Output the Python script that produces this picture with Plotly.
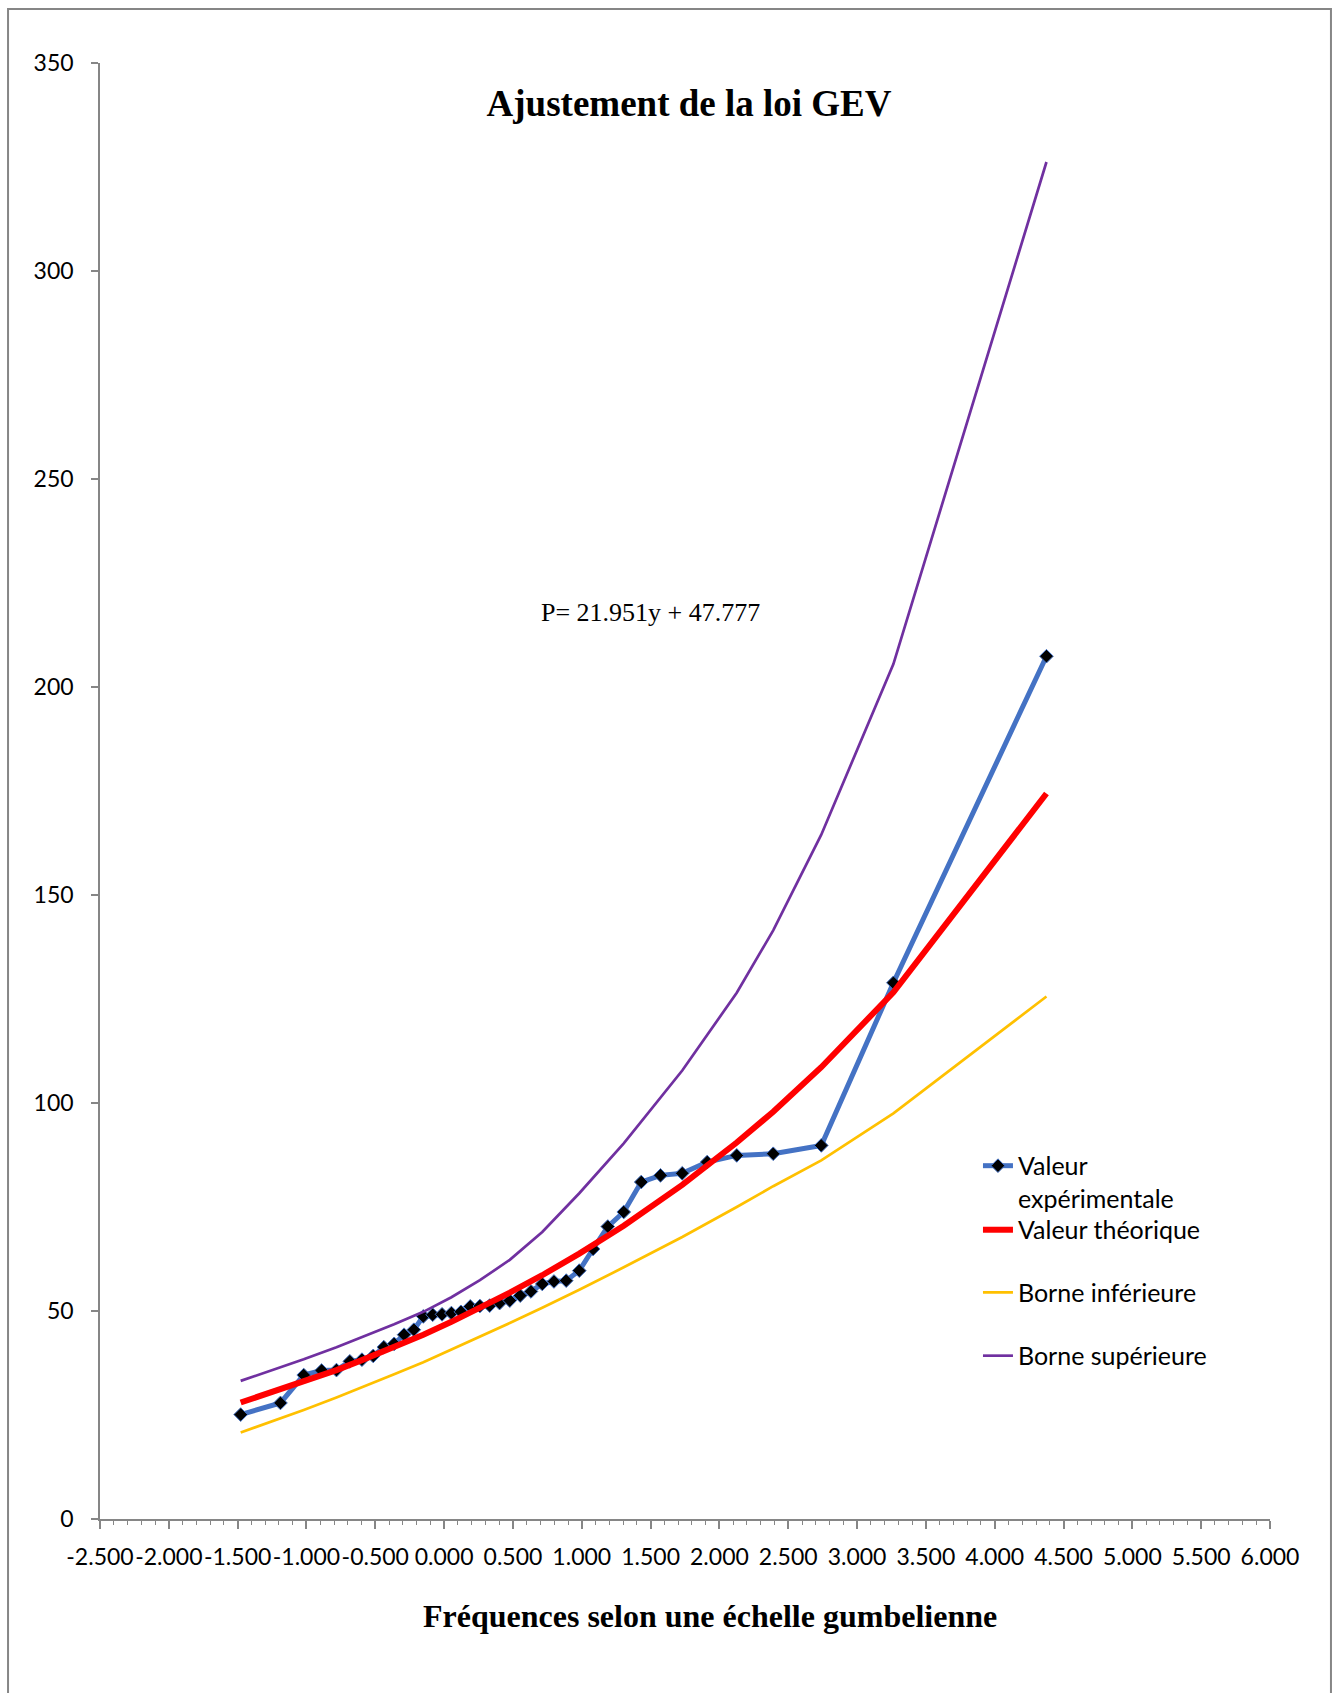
import plotly.graph_objects as go

# Gumbel reduced variate of each ranked annual maximum (Hazen plotting positions)
u_obs = [-1.478, -1.189, -1.020, -0.890, -0.782, -0.685, -0.597, -0.515, -0.438, -0.363,
         -0.291, -0.220, -0.151, -0.083, -0.015, 0.053, 0.122, 0.190, 0.260, 0.331,
         0.403, 0.477, 0.553, 0.631, 0.713, 0.798, 0.887, 0.982, 1.082, 1.189,
         1.305, 1.432, 1.572, 1.730, 1.911, 2.126, 2.391, 2.740, 3.264, 4.376]
# Observed maxima
p_obs = [25.1, 27.9, 34.6, 35.7, 35.8, 37.9, 38.3, 39.2, 41.3, 42.1,
         44.3, 45.5, 48.7, 49.1, 49.2, 49.5, 49.8, 51.1, 51.2, 51.3,
         51.9, 52.5, 53.7, 54.7, 56.5, 57.1, 57.3, 59.7, 64.9, 70.3,
         73.8, 81.0, 82.6, 83.1, 85.8, 87.4, 87.8, 89.8, 128.9, 207.4]

# Fitted GEV quantiles and confidence bounds
u_fit = [-1.478, -1.189, -1.020, -0.782, -0.597, -0.363, -0.151, 0.053, 0.260, 0.477,
         0.713, 0.982, 1.305, 1.730, 2.126, 2.391, 2.740, 3.264, 4.376]
p_theo = [28.0, 31.1, 33.0, 35.8, 38.2, 41.3, 44.3, 47.4, 50.7, 54.4,
          58.6, 63.8, 70.5, 80.3, 90.5, 97.9, 108.6, 126.6, 174.4]
p_low = [20.8, 24.2, 26.2, 29.2, 31.6, 34.8, 37.7, 40.7, 43.8, 47.1,
         50.8, 55.1, 60.5, 67.8, 75.0, 80.0, 86.2, 97.5, 125.6]
p_high = [33.2, 36.4, 38.4, 41.3, 43.7, 46.8, 49.8, 53.3, 57.4, 62.3,
          69.0, 78.3, 90.3, 107.8, 126.5, 141.5, 164.5, 205.5, 326.2]

x_ticks = [-2.5, -2.0, -1.5, -1.0, -0.5, 0.0, 0.5, 1.0, 1.5, 2.0,
           2.5, 3.0, 3.5, 4.0, 4.5, 5.0, 5.5, 6.0]
x_tick_labels = ["-2.500", "-2.000", "-1.500", "-1.000", "-0.500", "0.000", "0.500",
                 "1.000", "1.500", "2.000", "2.500", "3.000", "3.500", "4.000",
                 "4.500", "5.000", "5.500", "6.000"]
y_ticks = [0, 50, 100, 150, 200, 250, 300, 350]

AXIS = "#868686"
SANS = "Lato"
SERIF = "Liberation Serif"

fig = go.Figure()

fig.add_trace(go.Scatter(
    x=u_obs, y=p_obs, mode="lines+markers", name="Valeur<br>expérimentale",
    line=dict(color="#4472C4", width=5),
    marker=dict(symbol="diamond", size=10.5, color="black",
                line=dict(color="#4472C4", width=1)),
    legend="legend"))
fig.add_trace(go.Scatter(
    x=u_fit, y=p_theo, mode="lines", name="Valeur théorique",
    line=dict(color="#FF0000", width=6), legend="legend2"))
fig.add_trace(go.Scatter(
    x=u_fit, y=p_low, mode="lines", name="Borne inférieure",
    line=dict(color="#FFC000", width=2.7), legend="legend3"))
fig.add_trace(go.Scatter(
    x=u_fit, y=p_high, mode="lines", name="Borne supérieure",
    line=dict(color="#7030A0", width=2.7), legend="legend4"))


def legend_box(ypos):
    return dict(x=0.7504, y=ypos, xanchor="left", yanchor="middle",
                bgcolor="rgba(0,0,0,0)", borderwidth=0, valign="top",
                font=dict(family=SANS, size=25, color="black"))


# Outer frame of the chart area
fig.add_shape(type="rect", xref="paper", yref="paper",
              x0=-0.0786, x1=1.0521, y0=-0.13, y1=1.0371,
              line=dict(color=AXIS, width=2), fillcolor="rgba(0,0,0,0)",
              layer="below")

fig.add_annotation(text="P= 21.951y + 47.777", xref="paper", yref="paper",
                   x=0.375, y=0.6223, xanchor="left", yanchor="middle",
                   showarrow=False, font=dict(family=SERIF, size=26, color="black"))
fig.add_annotation(text="Fréquences selon une échelle gumbelienne",
                   xref="paper", yref="paper", x=0.5214, y=-0.0666,
                   xanchor="center", yanchor="middle", showarrow=False,
                   font=dict(family=SERIF, size=32, color="black", weight="bold"))

fig.update_layout(
    width=1339, height=1693, autosize=False,
    margin=dict(l=100, r=69, t=63, b=174),
    paper_bgcolor="white", plot_bgcolor="white",
    title=dict(text="Ajustement de la loi GEV", x=0.5146, y=0.9394,
               xanchor="center", yanchor="middle",
               font=dict(family=SERIF, size=37, color="black", weight="bold")),
    showlegend=True,
    legend=legend_box(0.2315),
    legend2=legend_box(0.1985),
    legend3=legend_box(0.1555),
    legend4=legend_box(0.1120),
    xaxis=dict(range=[-2.5, 6.0], tickmode="array", tickvals=x_ticks,
               ticktext=x_tick_labels, tickangle=0, ticks="outside", ticklen=8,
               tickwidth=1.5, tickcolor=AXIS, showline=True, linecolor=AXIS,
               linewidth=1.5, showgrid=False, zeroline=False,
               ticklabelstandoff=9,
               tickfont=dict(family=SANS, size=23, color="black"),
               minor=dict(tickmode="linear", tick0=-2.5, dtick=0.1,
                          ticks="outside", ticklen=4, tickcolor=AXIS,
                          tickwidth=1.2, showgrid=False)),
    xaxis2=dict(range=[-2.5, 6.0], overlaying="x", anchor="y", side="bottom",
                tickmode="array", tickvals=x_ticks, showticklabels=False,
                ticks="inside", ticklen=8, tickwidth=1.5, tickcolor=AXIS,
                showline=False, showgrid=False, zeroline=False),
    yaxis=dict(range=[0, 350], tickmode="array", tickvals=y_ticks,
               ticks="outside", ticklen=7, tickwidth=1.5, tickcolor=AXIS,
               showline=True, linecolor=AXIS, linewidth=1.5,
               showgrid=False, zeroline=False, ticklabelstandoff=13,
               tickfont=dict(family=SANS, size=23, color="black")),
)

fig.write_html("out.html")
